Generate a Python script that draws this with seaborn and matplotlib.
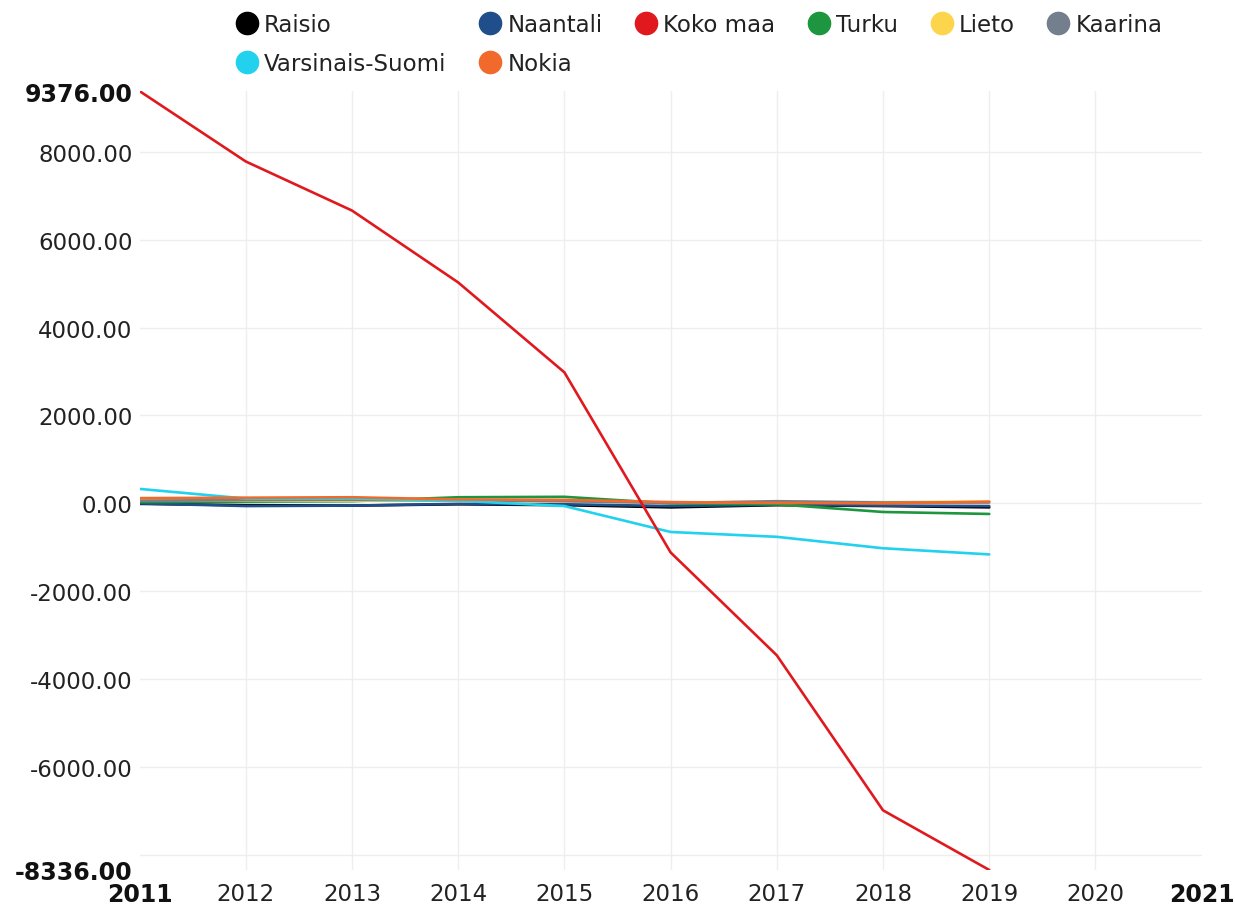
import matplotlib
matplotlib.use("Agg")
import matplotlib.pyplot as plt
from matplotlib.lines import Line2D
import seaborn as sns
import pandas as pd

years = [2011, 2012, 2013, 2014, 2015, 2016, 2017, 2018, 2019]

raisio = [-10, -40, -50, -20, -40, -90, -40, -60, -90]
naantali = [0, -60, -50, -10, -20, -60, -30, -50, -60]
koko_maa = [9376, 7776, 6660, 5025, 2980, -1115, -3455, -6980, -8336]
turku = [30, 40, 50, 140, 150, 0, -20, -195, -240]
lieto = [80, 70, 60, 60, 50, 20, 30, 30, 40]
kaarina = [60, 80, 80, 70, 50, 10, 50, 20, 20]
varsinais_suomi = [330, 110, 110, 60, -60, -650, -760, -1020, -1160]
nokia = [120, 130, 140, 90, 80, 30, 10, 0, 40]

series_names = ["Raisio", "Naantali", "Koko maa", "Turku", "Lieto",
                "Kaarina", "Varsinais-Suomi", "Nokia"]
series_values = [raisio, naantali, koko_maa, turku, lieto,
                 kaarina, varsinais_suomi, nokia]
colors = ["#000000", "#1f4e8a", "#e0191e", "#1e9640", "#fdd54c",
          "#747f8d", "#22d1ee", "#f26a2b"]

y_min, y_max = -8336, 9376
y_ticks = [-8336, -6000, -4000, -2000, 0, 2000, 4000, 6000, 8000, 9376]
x_ticks = list(range(2011, 2022))

rows = []
for name, vals in zip(series_names, series_values):
    for yr, v in zip(years, vals):
        rows.append({"year": yr, "value": v, "area": name})
df = pd.DataFrame(rows)

sns.set_style("white")
plt.rcParams["font.family"] = ["DejaVu Sans"]

fig = plt.figure(figsize=(12.35, 9.12), dpi=100)
ax = fig.add_axes([0.113, 0.045, 0.86, 0.854])

palette = dict(zip(series_names, colors))
sns.lineplot(data=df, x="year", y="value", hue="area", hue_order=series_names,
             palette=palette, linewidth=1.9, legend=False, ax=ax)
# keep the national line on top
ax.lines[2].set_zorder(4)

ax.set_xlim(2011, 2021)
ax.set_ylim(y_min, y_max)

ax.set_xticks(x_ticks)
ax.set_xticklabels([str(x) for x in x_ticks])
ax.set_yticks(y_ticks)
ax.set_yticklabels([f"{v:.2f}" for v in y_ticks])

# grid lines on inner positions only (minor ticks, overlap allowed)
ax.xaxis.remove_overlapping_locs = False
ax.yaxis.remove_overlapping_locs = False
ax.set_xticks(list(range(2012, 2021)), minor=True)
ax.set_yticks(list(range(-8000, 8001, 2000)), minor=True)
ax.grid(False)
ax.grid(True, which="minor", color="#eeeeee", linewidth=1.0)
ax.set_axisbelow(True)

ax.tick_params(axis="both", which="both", length=0, labelsize=16.5,
               colors="#222222")
ax.tick_params(axis="y", pad=5)
ax.tick_params(axis="x", pad=9)
for lbl in (ax.get_xticklabels()[0], ax.get_xticklabels()[-1],
            ax.get_yticklabels()[0], ax.get_yticklabels()[-1]):
    lbl.set_fontweight("bold")
    lbl.set_fontsize(17)
    lbl.set_color("#111111")
# nudge the bottom y label up a little so it clears the 2011 label
ax.get_yticklabels()[0].set_verticalalignment("center_baseline")

for s in ax.spines.values():
    s.set_visible(False)
ax.set_xlabel("")
ax.set_ylabel("")

handles = {n: Line2D([], [], linestyle="none", marker="o", markersize=16,
                     markerfacecolor=c, markeredgecolor=c)
           for n, c in zip(series_names, colors)}
# column-major order so rows read left to right
order = ["Raisio", "Varsinais-Suomi", "Naantali", "Nokia",
         "Koko maa", "Turku", "Lieto", "Kaarina"]
fig.legend([handles[n] for n in order], order, ncol=6, loc="upper center",
           bbox_to_anchor=(0.566, 1.0), frameon=False, fontsize=16.5,
           handletextpad=0.25, columnspacing=1.4, handlelength=1.0,
           labelspacing=0.72, borderaxespad=0.2, labelcolor="#222222")

fig.savefig("out.png", dpi=100)
